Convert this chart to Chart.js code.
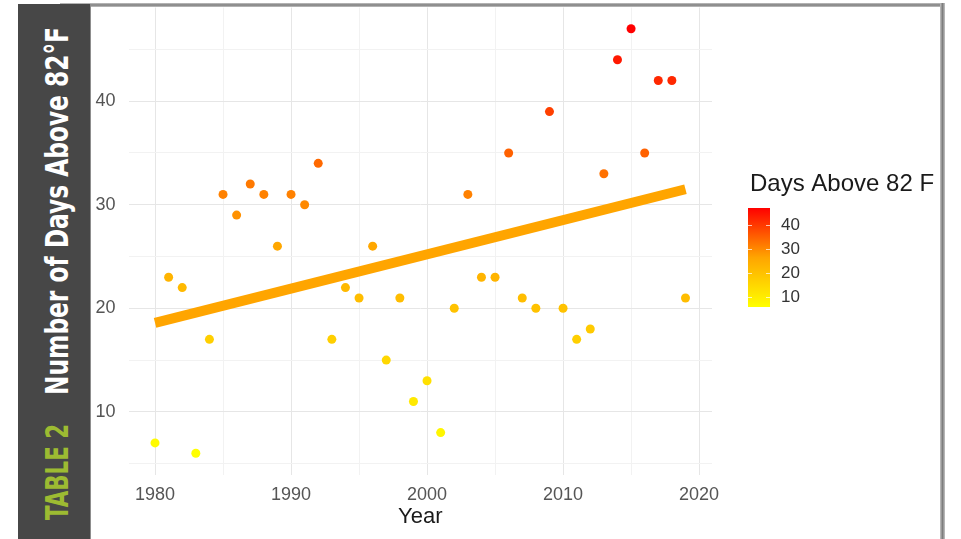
<!DOCTYPE html>
<html lang="en">
<head>
  <meta charset="UTF-8">
  <title>Number of Days Above 82°F</title>
  <script src="https://cdn.jsdelivr.net/npm/chart.js"></script>
  <style>
    * {
      box-sizing: border-box;
      margin: 0;
      padding: 0;
    }

    body {
      width: 961px;
      height: 539px;
      background: #fff;
      position: relative;
      overflow: hidden;
      font-family: 'Liberation Sans', Arial, sans-serif;
    }

    #daysChart {
      position: absolute;
      left: 0;
      top: 0;
    }

    .band {
      position: absolute;
      left: 18px;
      top: 4px;
      width: 73px;
      height: 535px;
      background: #474747;
      border-right: 1px solid #8d8d8d;
    }

    .top-rule {
      position: absolute;
      left: 60px;
      top: 3px;
      width: 885px;
      height: 4px;
      background: linear-gradient(#c4c4c4, #7d7d7d, #c4c4c4);
    }

    .right-rule {
      position: absolute;
      left: 940px;
      top: 3px;
      width: 5px;
      height: 536px;
      background: linear-gradient(90deg, #c4c4c4, #7d7d7d, #c4c4c4);
    }
  </style>
</head>
<body>
  <canvas id="daysChart" width="961" height="539"></canvas>

  <div class="top-rule"></div>
  <div class="right-rule"></div>
  <div class="band">
    <svg width="72" height="535">
      <text transform="translate(50,391) rotate(-90)" textLength="368" lengthAdjust="spacingAndGlyphs"
            font-family="'DejaVu Sans Condensed', 'Liberation Sans Narrow', 'DejaVu Sans', sans-serif"
            font-weight="bold" font-size="32" fill="#ffffff">Number of Days Above 82°F</text>
      <text transform="translate(50,516) rotate(-90)" textLength="96" lengthAdjust="spacingAndGlyphs"
            font-family="'DejaVu Sans Condensed', 'Liberation Sans Narrow', 'DejaVu Sans', sans-serif"
            font-weight="bold" font-size="32" fill="#9dbb32">TABLE 2</text>
    </svg>
  </div>

  <script>
    // data
    const years = [1980, 1981, 1982, 1983, 1984, 1985, 1986, 1987, 1988, 1989,
                   1990, 1991, 1992, 1993, 1994, 1995, 1996, 1997, 1998, 1999,
                   2000, 2001, 2002, 2003, 2004, 2005, 2006, 2007, 2008, 2009,
                   2010, 2011, 2012, 2013, 2014, 2015, 2016, 2017, 2018, 2019];
    const daysAbove82 = [7, 23, 22, 6, 17, 31, 29, 32, 31, 26,
                         31, 30, 34, 17, 22, 21, 26, 15, 21, 11,
                         13, 8, 20, 31, 23, 23, 35, 21, 20, 39,
                         20, 17, 18, 33, 44, 47, 35, 42, 42, 21];

    // fitted trend line, endpoints as drawn
    const trendYears = [1980, 2019];
    const trendDays = [18.6, 31.5];

    const xMajor = [1980, 1990, 2000, 2010, 2020];
    const xMinor = [1985, 1995, 2005, 2015];
    const yMajor = [10, 20, 30, 40];
    const yMinor = [5, 15, 25, 35, 45];
    const legendTicks = [10, 20, 30, 40];

    const colorMin = Math.min(...daysAbove82);
    const colorMax = Math.max(...daysAbove82);

    // yellow -> orange -> red
    function heatColor(v) {
      const t = (v - colorMin) / (colorMax - colorMin);
      let g;
      if (t < 0.5) {
        g = 255 - (255 - 165) * (t / 0.5);
      } else {
        g = 165 * (1 - (t - 0.5) / 0.5);
      }
      return `rgb(255,${Math.round(g)},0)`;
    }

    const gridColor = (major) => (ctx) =>
      major.includes(ctx.tick.value) ? '#e6e6e6' : '#f2f2f2';

    // gradient colour bar legend (Chart.js has none)
    const colorbar = {
      id: 'colorbar',
      afterDraw(chart) {
        const ctx = chart.ctx;
        const x = 748, w = 22, yBottom = 307, yTop = 208;
        const toY = v => yBottom - (v - colorMin) / (colorMax - colorMin) * (yBottom - yTop);

        ctx.save();
        const grad = ctx.createLinearGradient(0, yBottom, 0, yTop);
        grad.addColorStop(0, heatColor(colorMin));
        grad.addColorStop(0.5, heatColor((colorMin + colorMax) / 2));
        grad.addColorStop(1, heatColor(colorMax));
        ctx.fillStyle = grad;
        ctx.fillRect(x, yTop, w, yBottom - yTop);

        ctx.strokeStyle = 'rgba(255,255,255,0.7)';
        ctx.lineWidth = 1;
        ctx.font = '17px "Liberation Sans", Arial, sans-serif';
        ctx.fillStyle = '#333';
        ctx.textAlign = 'left';
        ctx.textBaseline = 'middle';
        legendTicks.forEach(v => {
          const y = Math.round(toY(v)) + 0.5;
          ctx.beginPath();
          ctx.moveTo(x, y); ctx.lineTo(x + 4, y);
          ctx.moveTo(x + w - 4, y); ctx.lineTo(x + w, y);
          ctx.stroke();
          ctx.fillText(String(v), 781, y);
        });

        ctx.fillStyle = '#1a1a1a';
        ctx.font = '24px "Liberation Sans", Arial, sans-serif';
        ctx.textBaseline = 'alphabetic';
        ctx.fillText('Days Above 82 F', 750, 191);
        ctx.restore();
      }
    };

    const ctx = document.getElementById('daysChart').getContext('2d');
    new Chart(ctx, {
      type: 'scatter',
      data: {
        datasets: [
          {
            label: 'Days Above 82 F',
            data: years.map((y, i) => ({ x: y, y: daysAbove82[i] })),
            backgroundColor: daysAbove82.map(heatColor),
            borderWidth: 0,
            pointRadius: 4.5,
            order: 2
          },
          {
            label: 'Trend',
            data: trendYears.map((y, i) => ({ x: y, y: trendDays[i] })),
            showLine: true,
            borderColor: '#FFA500',
            borderWidth: 10,
            borderCapStyle: 'butt',
            pointRadius: 0,
            order: 1
          }
        ]
      },
      options: {
        responsive: false,
        animation: false,
        devicePixelRatio: 1,
        layout: {
          padding: { left: 88, right: 249, top: 7.5, bottom: 0 }
        },
        plugins: {
          legend: { display: false },
          tooltip: { enabled: false }
        },
        scales: {
          x: {
            type: 'linear',
            min: 1978.05,
            max: 2020.95,
            afterBuildTicks: s => { s.ticks = [...xMajor, ...xMinor].sort().map(v => ({ value: v })); },
            afterFit: s => { s.height = 64.5; s.paddingLeft = 0; s.paddingRight = 0; },
            border: { display: false },
            grid: { color: gridColor(xMajor), drawTicks: false, lineWidth: 1 },
            ticks: {
              autoSkip: false,
              maxRotation: 0,
              padding: 9.5,
              color: '#555',
              font: { size: 18, family: "'Liberation Sans', Arial, sans-serif" },
              callback: v => xMajor.includes(v) ? String(v) : ''
            },
            title: {
              display: true,
              text: 'Year',
              color: '#1a1a1a',
              font: { size: 22, family: "'Liberation Sans', Arial, sans-serif" },
              padding: { top: 0, bottom: 9 }
            }
          },
          y: {
            min: 3.95,
            max: 49.05,
            afterBuildTicks: s => { s.ticks = [...yMajor, ...yMinor].sort((a, b) => a - b).map(v => ({ value: v })); },
            afterFit: s => { s.width = 40.5; s.paddingTop = 0; s.paddingBottom = 0; },
            border: { display: false },
            grid: { color: gridColor(yMajor), drawTicks: false, lineWidth: 1 },
            ticks: {
              autoSkip: false,
              padding: 13,
              color: '#555',
              font: { size: 18, family: "'Liberation Sans', Arial, sans-serif" },
              callback: v => yMajor.includes(v) ? String(v) : ''
            }
          }
        }
      },
      plugins: [colorbar]
    });
  </script>
</body>
</html>
